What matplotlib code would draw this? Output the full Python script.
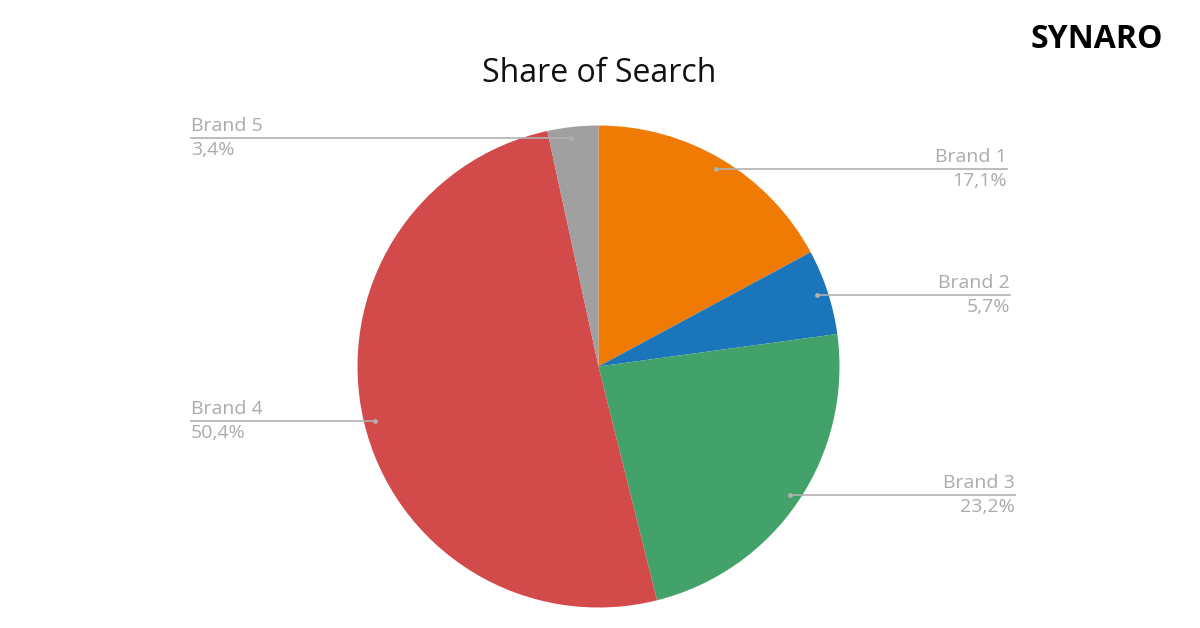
import numpy as np
import matplotlib.pyplot as plt

brands = ["Brand 1", "Brand 2", "Brand 3", "Brand 4", "Brand 5"]
shares = [17.1, 5.7, 23.2, 50.4, 3.4]
colors = ["#EF7A04", "#1B75BB", "#43A26A", "#D34A4B", "#A0A0A0"]
share_labels = ["17,1%", "5,7%", "23,2%", "50,4%", "3,4%"]

W, H = 1200, 628
fig = plt.figure(figsize=(12, 6.28), dpi=100)
ax = fig.add_axes([0, 0, 1, 1])

cx, cy, R = 598.5, H - 366.5, 241
ax.pie(shares, colors=colors, startangle=90, counterclock=False,
       center=(cx, cy), radius=R, wedgeprops=dict(linewidth=0), frame=True)
ax.set_xlim(0, W)
ax.set_ylim(0, H)
ax.set_aspect("equal")
ax.axis("off")

font = "Open Sans"
grey_txt = "#ABABAB"
line_c = "#B0B0B0"

# label anchor x (right side: text right aligned, left side: left aligned)
right_x = {0: 1007, 1: 1010, 2: 1015}
left_x = 191

cum = np.cumsum(shares) - np.array(shares) / 2
for i, name in enumerate(brands):
    ang = np.deg2rad(cum[i] / 100 * 360)
    px = cx + 0.955 * R * np.sin(ang)
    py = cy + 0.955 * R * np.cos(ang)
    if i in right_x:
        xe = right_x[i]
        ha = "right"
    else:
        xe = left_x
        ha = "left"
    ax.plot([px, xe], [py, py], color=line_c, lw=1.2, zorder=3)
    ax.plot(px, py, "o", color=line_c, ms=2.5, zorder=4)
    ax.text(xe, py + 3, name, ha=ha, va="bottom", fontsize=14,
            color=grey_txt, family=font)
    ax.text(xe, py - 3, share_labels[i], ha=ha, va="top", fontsize=14,
            color=grey_txt, family=font)

ax.text(599, H - 73, "Share of Search", ha="center", va="center",
        fontsize=23, color="#111111", family=font)
ax.text(1163, H - 40, "SYNARO", ha="right", va="center", fontsize=23,
        fontweight="bold", color="#000000", family=font)

fig.savefig("out.png", dpi=100, facecolor="white")
